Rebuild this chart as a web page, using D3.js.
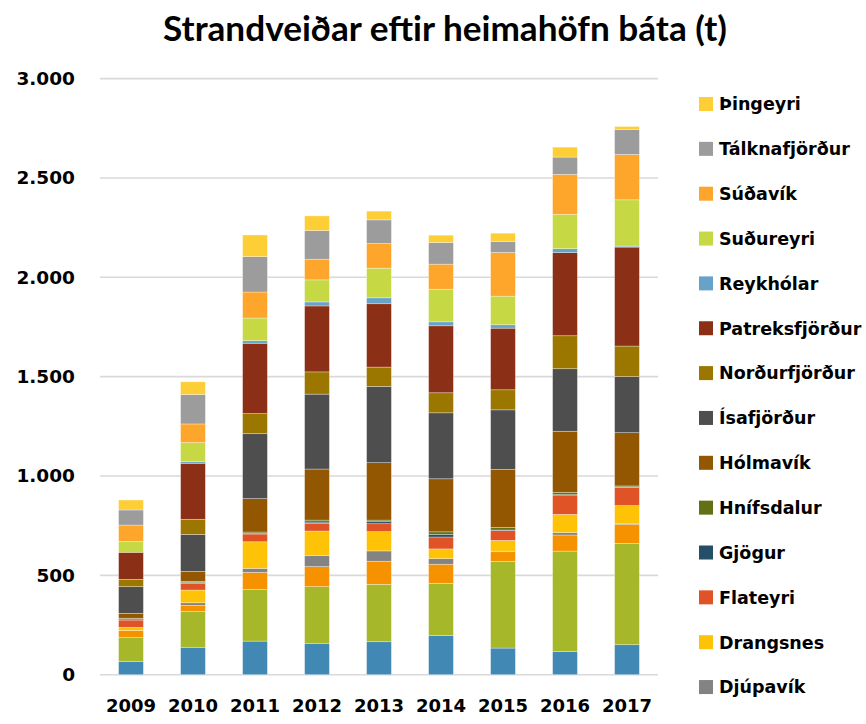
<!DOCTYPE html>
<html>
<head>
<meta charset="utf-8">
<script src="https://cdn.jsdelivr.net/npm/d3@7"></script>
<style>
  html, body { margin: 0; padding: 0; background: #fff; }
  svg { display: block; }
</style>
</head>
<body>
<svg id="chart" width="866" height="724"></svg>
<script>
// Strandveiðar (tonn) eftir heimahöfn báta, 2009–2017
const years = ["2009", "2010", "2011", "2012", "2013", "2014", "2015", "2016", "2017"];

const bildudalur     = [67, 138, 169, 158, 166, 198, 134, 117, 151];
const bolungarvik    = [120, 181, 260, 285, 289, 262, 436, 505, 510];
const brjanslaekur   = [36, 30, 86, 101, 116, 96, 49, 81, 96];
const djupavik       = [0, 13, 20, 55, 52, 28, 3, 12, 5];
const drangsnes      = [15, 64, 134, 124, 97, 49, 54, 92, 89];
const flateyri       = [37, 34, 39, 39, 40, 60, 50, 97, 92];
const gjogur         = [5, 4, 4, 6, 10, 13, 2, 2, 2];
const hnifsdalur     = [4, 6, 6, 10, 8, 13, 13, 12, 5];
const holmavik       = [25, 50, 168, 257, 289, 267, 292, 307, 268];
const isafjordur     = [134, 186, 327, 377, 384, 332, 300, 315, 282];
const nordurfjordur  = [37, 76, 101, 112, 97, 101, 101, 166, 154];
const patreksfjordur = [136, 282, 354, 332, 319, 337, 310, 418, 498];
const reykholar      = [0, 8, 13, 20, 30, 20, 17, 20, 5];
const sudureyri      = [55, 96, 114, 111, 149, 164, 144, 173, 233];
const sudavik        = [82, 94, 131, 104, 124, 126, 220, 201, 228];
const talknafjordur  = [76, 148, 178, 144, 119, 109, 55, 87, 126];
const thingeyri      = [50, 64, 109, 74, 44, 37, 42, 50, 15];

const seriesNames = ["Bíldudalur", "Bolungarvík", "Brjánslækur", "Djúpavík", "Drangsnes",
  "Flateyri", "Gjögur", "Hnífsdalur", "Hólmavík", "Ísafjörður", "Norðurfjörður",
  "Patreksfjörður", "Reykhólar", "Suðureyri", "Súðavík", "Tálknafjörður", "Þingeyri"];
const seriesValues = [bildudalur, bolungarvik, brjanslaekur, djupavik, drangsnes,
  flateyri, gjogur, hnifsdalur, holmavik, isafjordur, nordurfjordur,
  patreksfjordur, reykholar, sudureyri, sudavik, talknafjordur, thingeyri];
const seriesColors = ["#4189B4", "#A6B72A", "#F69200", "#838383", "#FEC306",
  "#DF5327", "#254E68", "#637015", "#925700", "#4E4E4E", "#9B7700",
  "#8B3016", "#67A3C8", "#C6D944", "#FEA62B", "#9C9C9C", "#FECE37"];

const yTicks = [0, 500, 1000, 1500, 2000, 2500, 3000];
const title = "Strandveiðar eftir heimahöfn báta (t)";

// table for d3.stack: one row per year
const table = years.map((yr, i) => {
  const row = { year: yr };
  seriesNames.forEach((n, k) => { row[n] = seriesValues[k][i]; });
  return row;
});

const W = 866, H = 724;
const svg = d3.select("#chart");
const plot = { left: 100, right: 658, top: 78.6, bottom: 674.7 };

const x = d3.scaleBand().domain(years).range([plot.left, plot.right]).paddingInner(0.6).paddingOuter(0.3);
const y = d3.scaleLinear().domain([0, 3000]).range([plot.bottom, plot.top]);
const color = d3.scaleOrdinal().domain(seriesNames).range(seriesColors);

// gridlines
svg.append("g")
  .selectAll("line").data(yTicks).join("line")
  .attr("x1", plot.left).attr("x2", plot.right)
  .attr("y1", d => y(d)).attr("y2", d => y(d))
  .attr("stroke", "#D9D9D9").attr("stroke-width", 1.6);

// y axis labels
const fmt = d => d3.format(",")(d).replace(/,/g, ".");
const yAxis = d3.axisLeft(y).tickValues(yTicks).tickFormat(fmt).tickSize(0).tickPadding(0);
svg.append("g")
  .attr("transform", `translate(${plot.left - 25},0)`)
  .call(yAxis)
  .call(g => g.select(".domain").remove())
  .call(g => g.selectAll("text")
    .attr("font-family", "'DejaVu Sans', Verdana, sans-serif")
    .attr("font-weight", "bold").attr("font-size", 18.5).attr("fill", "#000"));

// x axis labels
const xAxis = d3.axisBottom(x).tickSize(0).tickPadding(0);
svg.append("g")
  .attr("transform", `translate(0,${plot.bottom + 30})`)
  .call(xAxis)
  .call(g => g.select(".domain").remove())
  .call(g => g.selectAll("text")
    .attr("dy", "0.4em")
    .attr("font-family", "'DejaVu Sans', Verdana, sans-serif")
    .attr("font-weight", "bold").attr("font-size", 18).attr("fill", "#000"));

// stacked bars
const stacked = d3.stack().keys(seriesNames)(table);
svg.append("g")
  .selectAll("g").data(stacked).join("g")
  .attr("fill", d => color(d.key))
  .selectAll("rect").data(d => d).join("rect")
  .attr("x", d => x(d.data.year))
  .attr("width", x.bandwidth())
  .attr("y", d => y(d[1]))
  .attr("height", d => Math.max(0, y(d[0]) - y(d[1])))
  .attr("stroke", "rgba(255,255,255,0.45)")
  .attr("stroke-width", 0.7);

// title, sized to its set width
const t = svg.append("text")
  .attr("x", 445).attr("y", 41)
  .attr("text-anchor", "middle")
  .attr("font-family", "Lato, 'Open Sans', sans-serif")
  .attr("font-weight", "bold")
  .attr("font-size", 32)
  .attr("fill", "#000")
  .text(title);
const tw = t.node().getComputedTextLength();
t.attr("font-size", 32 * 564 / tw);

// legend, top series first; the rows run down the right side until the page ends
const rowStep = 44.85, rowTop = 104;
const legendOrder = seriesNames.slice().reverse()
  .filter((d, i) => rowTop + i * rowStep + 12 < H);
const legend = svg.append("g")
  .selectAll("g").data(legendOrder).join("g")
  .attr("transform", (d, i) => `translate(699,${rowTop + i * rowStep})`);
legend.append("rect")
  .attr("x", 0).attr("y", -7).attr("width", 14).attr("height", 14)
  .attr("fill", d => color(d));
legend.append("text")
  .attr("x", 20).attr("y", 0).attr("dy", "0.36em")
  .attr("font-family", "'DejaVu Sans', Verdana, sans-serif")
  .attr("font-weight", "bold").attr("font-size", 17.5).attr("fill", "#000")
  .text(d => d);
</script>
</body>
</html>
